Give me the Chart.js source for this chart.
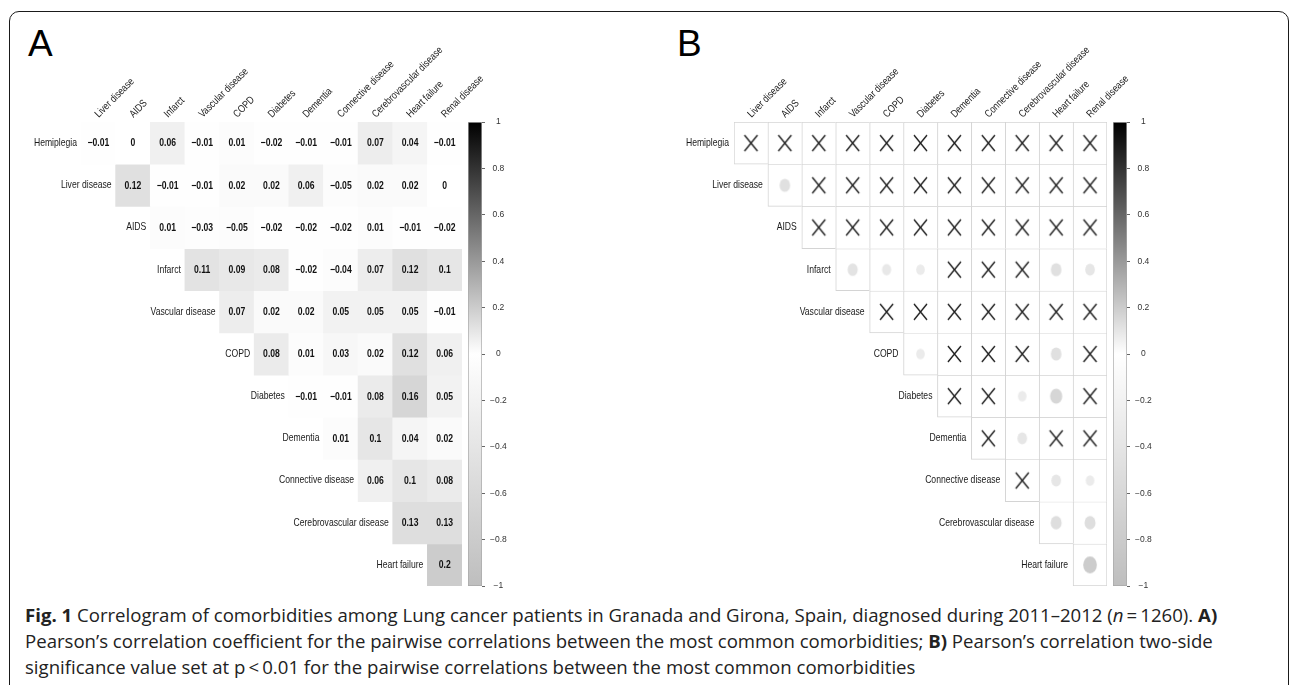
<!DOCTYPE html>
<html><head><meta charset="utf-8">
<script src="https://cdn.jsdelivr.net/npm/chart.js@4.4.1/dist/chart.umd.min.js"></script>
<style>
html,body{margin:0;padding:0;background:#fff;}
body{width:1290px;height:685px;position:relative;overflow:hidden;font-family:'Liberation Sans',Arial,sans-serif;}
.frame{position:absolute;left:9px;top:11px;width:1280px;height:760px;border:1.5px solid #1a1a1a;border-radius:10px;box-sizing:border-box;}
.abs{position:absolute;}
.letter{font-size:37px;line-height:37px;color:#000;}
.caption{left:25px;top:602px;font-family:'Open Sans',sans-serif;font-size:18.6px;line-height:26px;color:#222;white-space:nowrap;}
</style></head><body>
<div class="frame"></div>
<div class="abs letter" style="left:28px;top:25px">A</div>
<div class="abs letter" style="left:677px;top:25px">B</div>
<canvas id="cA" class="abs" style="left:0;top:0;width:640px;height:600px" width="640" height="600"></canvas>
<canvas id="barA" class="abs" style="left:440px;top:100px;width:100px;height:500px" width="100" height="500"></canvas>
<canvas id="cB" class="abs" style="left:640px;top:0;width:650px;height:600px" width="650" height="600"></canvas>
<canvas id="barB" class="abs" style="left:1085px;top:100px;width:100px;height:500px" width="100" height="500"></canvas>
<div class="abs caption"><b>Fig. 1</b> Correlogram of comorbidities among Lung cancer patients in Granada and Girona, Spain, diagnosed during 2011–2012 (<i>n</i>&thinsp;=&thinsp;1260). <b>A)</b><br>Pearson’s correlation coefficient for the pairwise correlations between the most common comorbidities; <b>B)</b> Pearson’s correlation two-side<br>significance value set at p&thinsp;&lt;&thinsp;0.01 for the pairwise correlations between the most common comorbidities</div>
<script>
// ---------- DATA ----------
const rowLabels = ['Hemiplegia','Liver disease','AIDS','Infarct','Vascular disease','COPD','Diabetes','Dementia','Connective disease','Cerebrovascular disease','Heart failure'];
const colLabels = ['Liver disease','AIDS','Infarct','Vascular disease','COPD','Diabetes','Dementia','Connective disease','Cerebrovascular disease','Heart failure','Renal disease'];
// Pearson r, each row starts at the column of the same index
const rHemiplegia     = [-0.01, 0, 0.06, -0.01, 0.01, -0.02, -0.01, -0.01, 0.07, 0.04, -0.01];
const rLiverDisease   = [0.12, -0.01, -0.01, 0.02, 0.02, 0.06, -0.05, 0.02, 0.02, 0];
const rAIDS           = [0.01, -0.03, -0.05, -0.02, -0.02, -0.02, 0.01, -0.01, -0.02];
const rInfarct        = [0.11, 0.09, 0.08, -0.02, -0.04, 0.07, 0.12, 0.1];
const rVascular       = [0.07, 0.02, 0.02, 0.05, 0.05, 0.05, -0.01];
const rCOPD           = [0.08, 0.01, 0.03, 0.02, 0.12, 0.06];
const rDiabetes       = [-0.01, -0.01, 0.08, 0.16, 0.05];
const rDementia       = [0.01, 0.1, 0.04, 0.02];
const rConnective     = [0.06, 0.1, 0.08];
const rCerebro        = [0.13, 0.13];
const rHeartFailure   = [0.2];
// significance at p < 0.01 (1 = significant -> circle, 0 = not -> X)
const sHemiplegia     = [0,0,0,0,0,0,0,0,0,0,0];
const sLiverDisease   = [1,0,0,0,0,0,0,0,0,0];
const sAIDS           = [0,0,0,0,0,0,0,0,0];
const sInfarct        = [1,1,1,0,0,0,1,1];
const sVascular       = [0,0,0,0,0,0,0];
const sCOPD           = [1,0,0,0,1,0];
const sDiabetes       = [0,0,1,1,0];
const sDementia       = [0,1,0,0];
const sConnective     = [0,1,1];
const sCerebro        = [1,1];
const sHeartFailure   = [1];
const colorbarTicks   = [-1,-0.8,-0.6,-0.4,-0.2,0,0.2,0.4,0.6,0.8,1];

const corrRows = [rHemiplegia,rLiverDisease,rAIDS,rInfarct,rVascular,rCOPD,rDiabetes,rDementia,rConnective,rCerebro,rHeartFailure];
const sigRows  = [sHemiplegia,sLiverDisease,sAIDS,sInfarct,sVascular,sCOPD,sDiabetes,sDementia,sConnective,sCerebro,sHeartFailure];

// ---------- helpers ----------
function corrColor(r){
  let v = r >= 0 ? 255*(1-r) : 255 + r*(255-190);
  v = Math.round(v);
  return `rgb(${v},${v},${v})`;
}
function fmt(v){
  const r = Math.round(v*100)/100;
  return r === 0 ? '0' : String(r).replace('-', '\u2212');
}
function hasFont(name){
  const c = document.createElement('canvas').getContext('2d');
  const t = 'Hemiplegia Cerebrovascular 0123';
  c.font = '40px monospace'; const a = c.measureText(t).width;
  c.font = `40px '${name}', monospace`; const b = c.measureText(t).width;
  return Math.abs(a-b) > 0.5;
}
const NARROW = hasFont('Liberation Sans Narrow');
const FAM = NARROW ? "'Liberation Sans Narrow'" : "'Liberation Sans', Arial";
const SX = NARROW ? 1 : 0.82;
function drawLabel(ctx, text, x, y, o){
  ctx.save();
  ctx.translate(x, y);
  if (o.rotate) ctx.rotate(o.rotate);
  ctx.scale(SX, 1);
  ctx.font = `${o.bold ? 'bold ' : ''}${o.size}px ${FAM}`;
  ctx.textAlign = o.align || 'left';
  ctx.textBaseline = o.baseline || 'middle';
  ctx.fillStyle = o.color || '#1a1a1a';
  ctx.fillText(text, 0, 0);
  ctx.restore();
}

function cellDatasets(fill){
  return rowLabels.map((rl, i) => ({
    type: 'bar',
    label: rl,
    data: colLabels.map((c, j) => j >= i ? [i, i+1] : null),
    backgroundColor: fill === 'corr' ? (ctx => corrColor(corrRows[i][ctx.dataIndex - i])) : '#ffffff',
    borderColor: '#d4d4d4',
    borderWidth: fill === 'corr' ? 0 : (ctx => ({top:1, left:1, right: ctx.dataIndex === 10 ? 1 : 0, bottom: ctx.dataIndex === i ? 1 : 0})),
    borderSkipped: false,
    barPercentage: 1, categoryPercentage: 1, grouped: false,
    order: 2
  }));
}

const labelsPlugin = {
  id: 'cellLabels',
  afterDatasetsDraw(chart, args, opts){
    const ctx = chart.ctx;
    const xs = chart.scales.x, ys = chart.scales.y;
    const cw = chart.chartArea.width / colLabels.length;
    rowLabels.forEach((rl, i) => {
      drawLabel(ctx, rl, xs.getPixelForValue(i) - cw/2 - opts.rowGap, ys.getPixelForValue(i + 0.5), {size: 10.5, align: 'right', color: '#1a1a1a'});
    });
    colLabels.forEach((cl, j) => {
      drawLabel(ctx, cl, xs.getPixelForValue(j) + 0.5, chart.chartArea.top - 4, {size: 10.5, align: 'left', baseline: 'alphabetic', rotate: -Math.PI/4, color: '#1a1a1a'});
    });
    if (opts.values) {
      rowLabels.forEach((rl, i) => {
        const meta = chart.getDatasetMeta(i);
        meta.data.forEach((el, j) => {
          if (j < i) return;
          drawLabel(ctx, fmt(corrRows[i][j - i]), el.x, (el.y + el.base)/2 + 0.5, {size: 10.5, bold: true, align: 'center', color: '#111'});
        });
      });
    }
  }
};

function matrixOptions(padL, padR, opts){
  return {
    responsive: false, animation: false, events: [],
    layout: {padding: {left: padL, right: padR, top: 122, bottom: 14}},
    plugins: {legend: {display: false}, tooltip: {enabled: false}, cellLabels: opts},
    scales: {
      x: {type: 'category', labels: colLabels, offset: true, display: false},
      y: {type: 'linear', min: 0, max: 11, reverse: true, display: false}
    }
  };
}

// ---------- Panel A ----------
new Chart(document.getElementById('cA'), {
  type: 'bar',
  data: {labels: colLabels, datasets: cellDatasets('corr')},
  options: matrixOptions(81, 178, {values: true, rowGap: 4}),
  plugins: [labelsPlugin]
});

// ---------- Panel B ----------
function xMark(){
  const c = document.createElement('canvas');
  c.width = 17; c.height = 20;
  const g = c.getContext('2d');
  g.strokeStyle = '#1a1a1a'; g.lineWidth = 1.3;
  g.beginPath();
  g.moveTo(2, 2); g.lineTo(15, 18);
  g.moveTo(15, 2); g.lineTo(2, 18);
  g.stroke();
  return c;
}
const X_CANVAS = xMark();
function ellipseStyle(ctx){
  const area = ctx.chart.chartArea;
  const raw = ctx.raw;
  if (!area || !raw) return 'circle';
  const cw = area.width / colLabels.length, ch = area.height / rowLabels.length;
  const k = 0.9 * Math.sqrt(Math.abs(raw.r));
  const w = k * cw, h = k * ch;
  const c = document.createElement('canvas');
  c.width = Math.ceil(w) + 2; c.height = Math.ceil(h) + 2;
  const g = c.getContext('2d');
  g.fillStyle = corrColor(raw.r);
  g.beginPath();
  g.ellipse(c.width/2, c.height/2, w/2, h/2, 0, 0, Math.PI*2);
  g.fill();
  return c;
}
const crossPoints = [], circlePoints = [];
sigRows.forEach((row, i) => row.forEach((s, k) => {
  const p = {x: colLabels[i + k], y: i + 0.5, r: corrRows[i][k]};
  (s ? circlePoints : crossPoints).push(p);
}));

new Chart(document.getElementById('cB'), {
  type: 'bar',
  data: {labels: colLabels, datasets: [
    ...cellDatasets('white'),
    {type: 'scatter', label: 'not significant', data: crossPoints, pointStyle: X_CANVAS, pointRadius: 5, order: 1},
    {type: 'scatter', label: 'significant', data: circlePoints, pointStyle: ellipseStyle, pointRadius: 5, order: 1}
  ]},
  options: matrixOptions(94, 183, {values: false, rowGap: 5}),
  plugins: [labelsPlugin]
});

// ---------- Colour bars ----------
function colorbar(id){
  new Chart(document.getElementById(id), {
    type: 'bar',
    data: {labels: [''], datasets: [{
      data: [[colorbarTicks[0], colorbarTicks[colorbarTicks.length-1]]],
      backgroundColor: ctx => {
        const a = ctx.chart.chartArea;
        if (!a) return '#ccc';
        const g = ctx.chart.ctx.createLinearGradient(0, a.top, 0, a.bottom);
        g.addColorStop(0, '#000000');
        g.addColorStop(0.5, '#ffffff');
        g.addColorStop(1, '#bebebe');
        return g;
      },
      borderColor: '#a8a8a8', borderWidth: 1, borderSkipped: false,
      barPercentage: 1, categoryPercentage: 1
    }]},
    options: {
      responsive: false, animation: false, events: [],
      layout: {padding: {left: 28, top: 22, bottom: 14, right: 0}},
      plugins: {legend: {display: false}, tooltip: {enabled: false}},
      scales: {
        x: {display: false},
        y: {position: 'right', min: -1, max: 1,
            afterBuildTicks: s => { s.ticks = colorbarTicks.map(v => ({value: v})); },
            afterFit: s => { s.width = 58; },
            ticks: {font: {size: 8.5, family: "'Liberation Sans', Arial"}, color: '#333', padding: 5, crossAlign: 'center', callback: v => fmt(v)},
            grid: {drawOnChartArea: false, tickLength: 3, color: '#666'},
            border: {display: false}}
      }
    }
  });
}
colorbar('barA');
colorbar('barB');
</script>
</body></html>
